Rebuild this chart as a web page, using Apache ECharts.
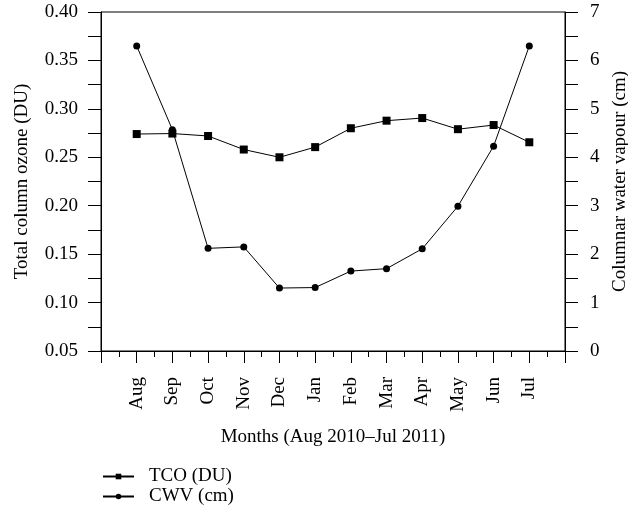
<!DOCTYPE html>
<html><head><meta charset="utf-8">
<script src="https://cdn.jsdelivr.net/npm/echarts@6/dist/echarts.min.js"></script>
<style>html,body{margin:0;padding:0;background:#fff}#c{width:628px;height:511px}</style>
</head><body><div id="c"></div>
<script>
const months = ['Aug','Sep','Oct','Nov','Dec','Jan','Feb','Mar','Apr','May','Jun','Jul'];
const tco = [0.274,0.2745,0.272,0.258,0.250,0.2605,0.280,0.2878,0.2905,0.279,0.2833,0.2655];
const cwv = [6.30,4.57,2.12,2.15,1.30,1.31,1.65,1.70,2.11,2.99,4.23,6.30];
const leftTicks = {min:0.05, max:0.40, interval:0.05};
const rightTicks = {min:0, max:7, interval:1};

const F = 'Liberation Serif';
const txt = {fontFamily:F, fontSize:19, color:'#000'};
const chart = echarts.init(document.getElementById('c'), null, {renderer:'canvas'});
chart.setOption({
  animation:false,
  backgroundColor:'#fff',
  grid:{left:101, right:63, top:12, bottom:160, outerBoundsMode:'none', containLabel:false,
    show:true, borderColor:'#000', borderWidth:1, backgroundColor:'transparent'},
  legend:{
    orient:'vertical', left:97, top:462, itemGap:1, itemWidth:31, itemHeight:7,
    textStyle:Object.assign({}, txt, {padding:[0,0,0,10]}),
    data:['TCO (DU)','CWV (cm)']
  },
  xAxis:{
    type:'value', min:0, max:13, interval:1,
    name:'Months (Aug 2010\u2013Jul 2011)', nameLocation:'middle', nameGap:77,
    nameTextStyle:txt,
    axisLine:{show:true, onZero:false, lineStyle:{color:'#000', width:1}},
    axisTick:{show:true, inside:false, length:12, lineStyle:{color:'#000'}},
    minorTick:{show:true, splitNumber:2, length:6, lineStyle:{color:'#000'}},
    splitLine:{show:false},
    axisLabel:Object.assign({}, txt, {rotate:90, margin:26,
      formatter:v => (v>=1 && v<=12) ? months[v-1] : ''})
  },
  yAxis:[{
    type:'value', position:'left', min:leftTicks.min, max:leftTicks.max, interval:leftTicks.interval,
    name:'Total column ozone (DU)', nameLocation:'middle', nameGap:69, nameTextStyle:txt,
    axisLine:{show:true, lineStyle:{color:'#000', width:1}},
    axisTick:{show:true, inside:false, length:13, lineStyle:{color:'#000'}},
    minorTick:{show:true, splitNumber:2, length:13, lineStyle:{color:'#000'}},
    splitLine:{show:false},
    axisLabel:Object.assign({}, txt, {margin:23, formatter:v => v.toFixed(2)})
  },{
    type:'value', position:'right', min:rightTicks.min, max:rightTicks.max, interval:rightTicks.interval,
    name:'Columnar water vapour (cm)', nameLocation:'middle', nameGap:42, nameTextStyle:txt,
    axisLine:{show:true, lineStyle:{color:'#000', width:1}},
    axisTick:{show:true, inside:false, length:13, lineStyle:{color:'#000'}},
    minorTick:{show:true, splitNumber:2, length:13, lineStyle:{color:'#000'}},
    splitLine:{show:false},
    axisLabel:Object.assign({}, txt, {margin:25})
  }],
  series:[{
    name:'TCO (DU)', type:'line', yAxisIndex:0,
    data:tco.map((v,i)=>[i+1,v]),
    symbol:'rect', symbolSize:8, showAllSymbol:true,
    itemStyle:{color:'#000'}, lineStyle:{color:'#000', width:1}
  },{
    name:'CWV (cm)', type:'line', yAxisIndex:1,
    data:cwv.map((v,i)=>[i+1,v]),
    symbol:'circle', symbolSize:7, showAllSymbol:true,
    itemStyle:{color:'#000'}, lineStyle:{color:'#000', width:1}
  }]
});
</script></body></html>
